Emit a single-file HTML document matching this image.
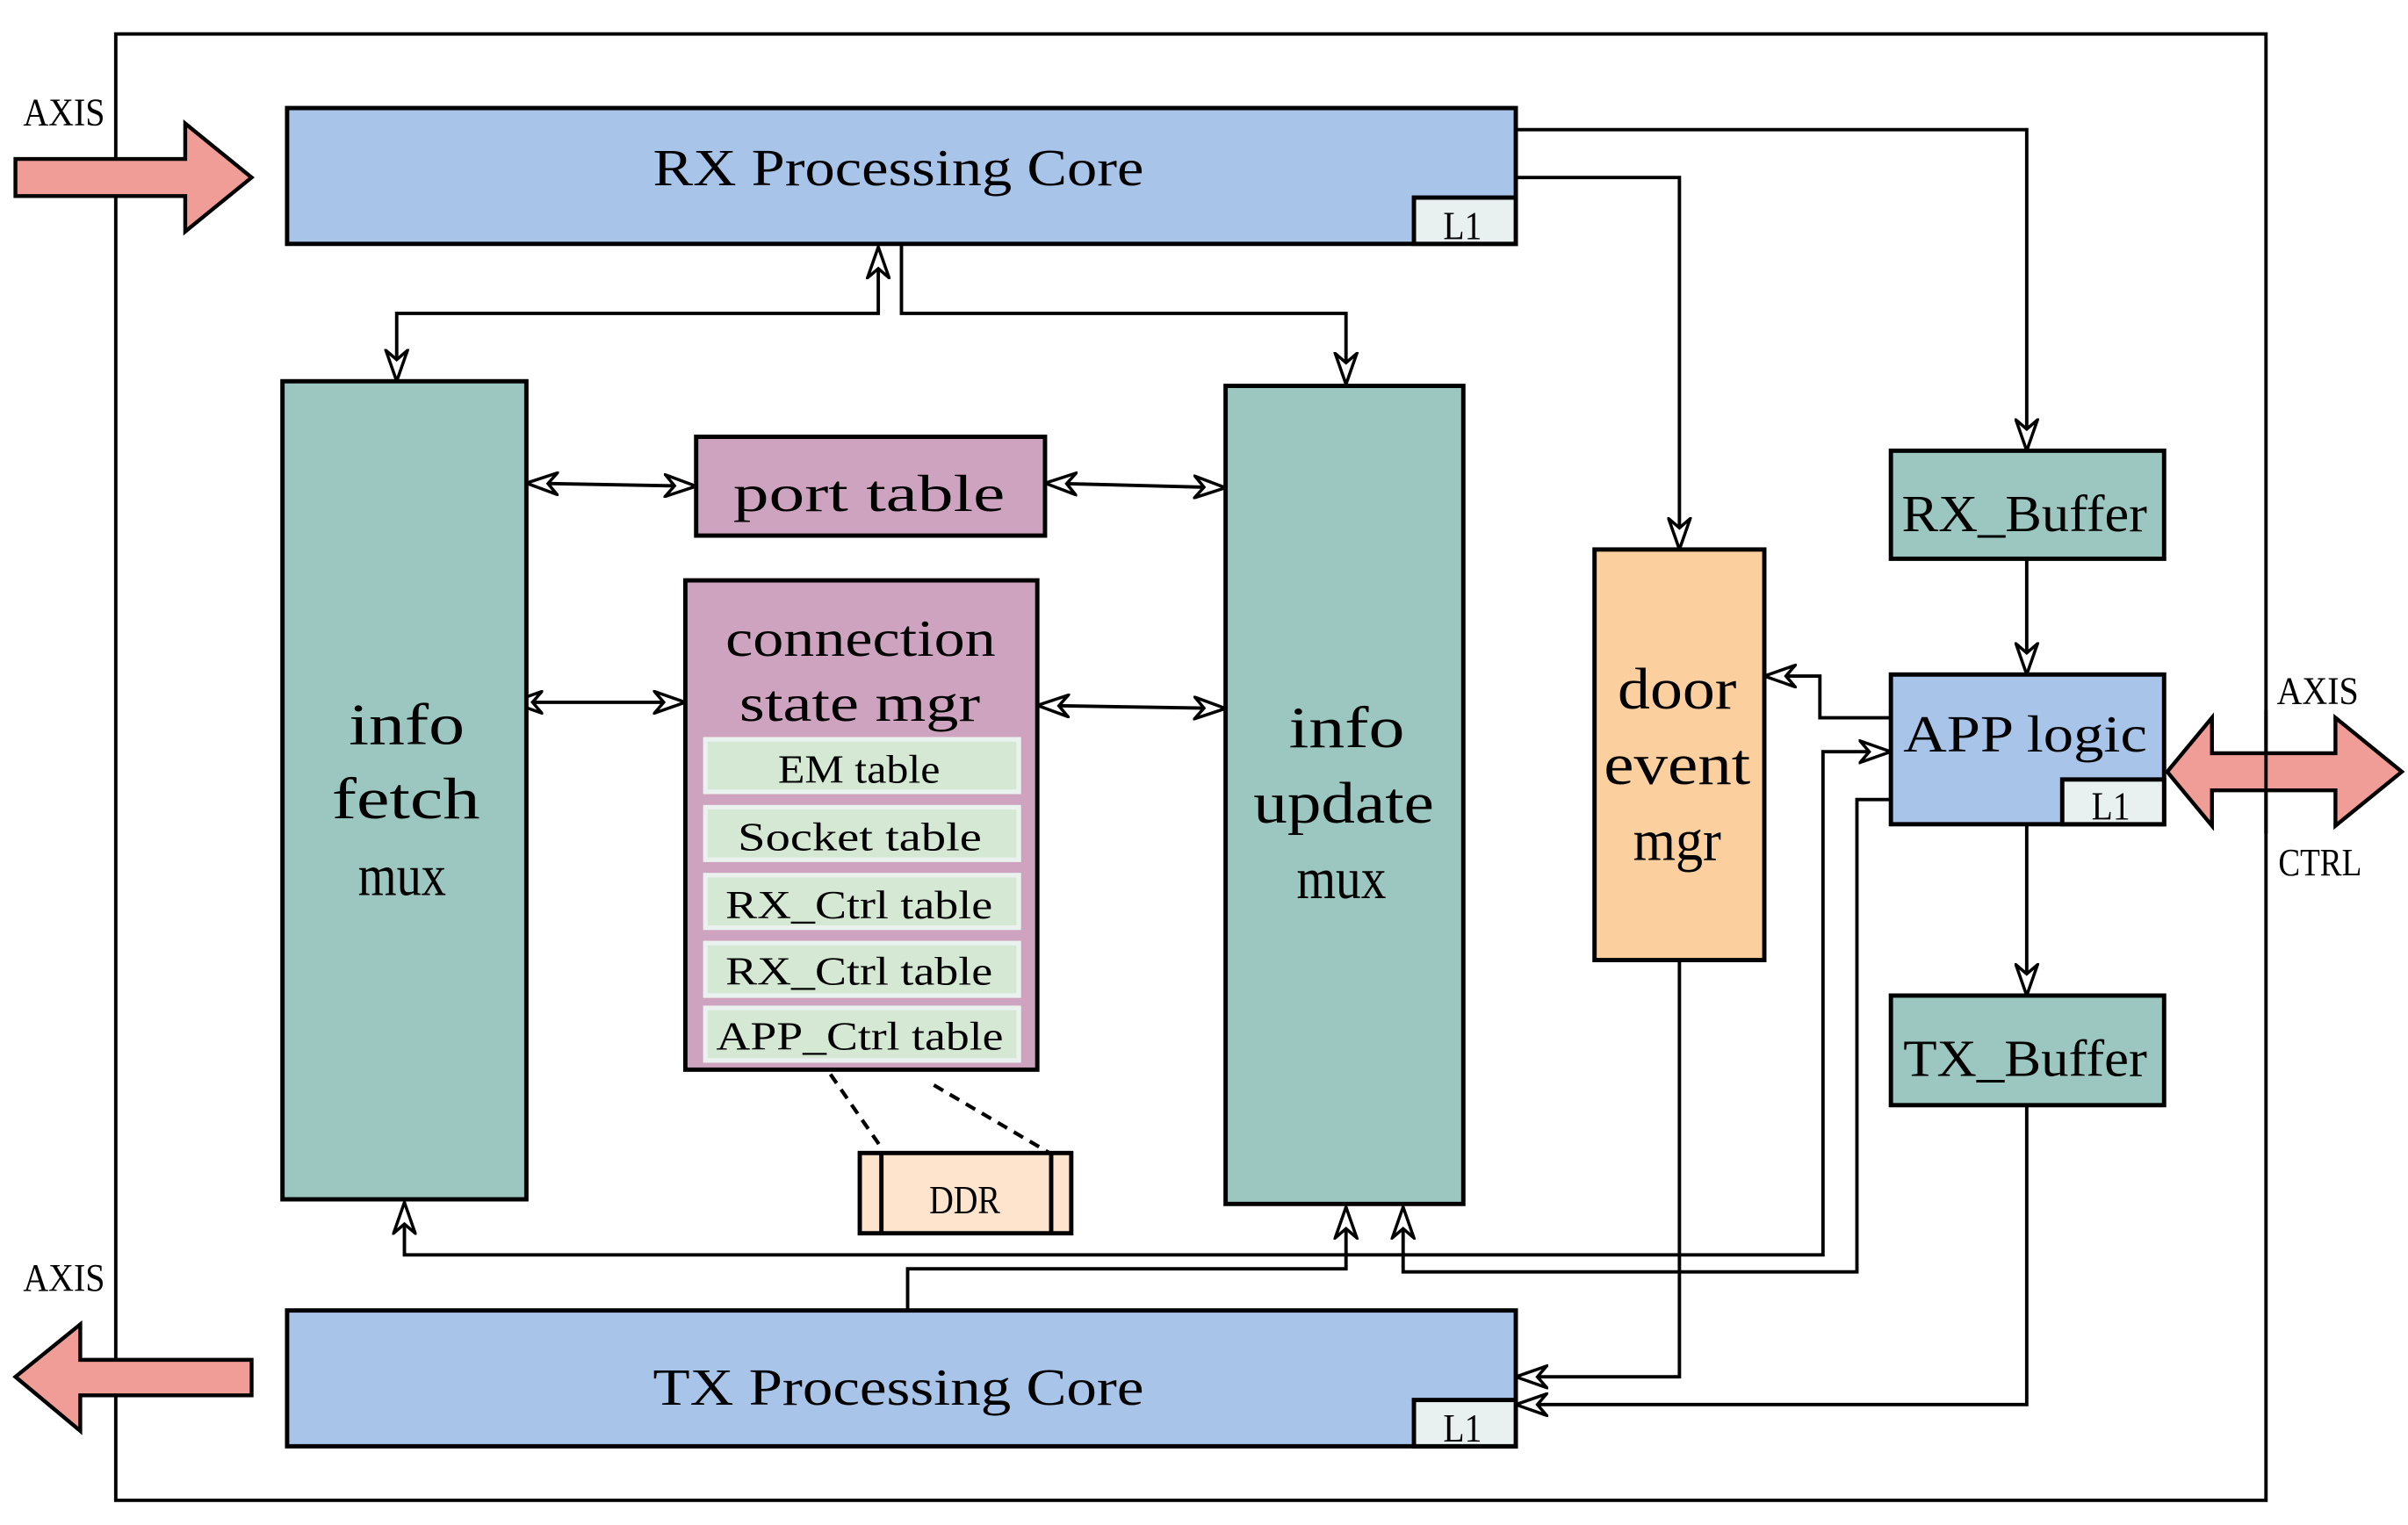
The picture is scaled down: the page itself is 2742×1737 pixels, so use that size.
<!DOCTYPE html>
<html><head><meta charset="utf-8"><style>
html,body{margin:0;padding:0;background:#fff;}
svg{display:block;}
text{font-family:"Liberation Serif",serif;fill:#000;}
</style></head><body>
<svg width="2742" height="1737" viewBox="0 0 1560 988" preserveAspectRatio="none" xmlns="http://www.w3.org/2000/svg">
<defs>
<marker id="a" viewBox="0 0 22 16" refX="21" refY="8" markerWidth="22" markerHeight="16" markerUnits="userSpaceOnUse" orient="auto-start-reverse">
<path d="M1,1 L21,8 L1,15 L7,8 Z" fill="#fff" stroke="#000" stroke-width="2"/>
</marker>
</defs>
<rect x="0" y="0" width="1560" height="988" fill="#fff"/>
<rect x="75" y="22" width="1393" height="950" fill="none" stroke="#000" stroke-width="2.2"/>

<polygon points="1404,500 1433,465 1433,488 1513,488 1513,465 1556,500 1513,535 1513,512 1433,512 1433,535" fill="#f09d98" stroke="#000" stroke-width="2.5"/>
<line x1="1468" y1="460" x2="1468" y2="540" stroke="#000" stroke-width="2.2"/>
<text x="1475" y="456" font-size="25" textLength="53" lengthAdjust="spacingAndGlyphs">AXIS</text>
<text x="1476" y="567" font-size="25" textLength="54" lengthAdjust="spacingAndGlyphs">CTRL</text>

<polygon points="10,103 120,103 120,80 163,115 120,150 120,127 10,127" fill="#f09d98" stroke="#000" stroke-width="2.5"/>
<text x="15" y="81" font-size="25" textLength="53" lengthAdjust="spacingAndGlyphs">AXIS</text>
<polygon points="163,881 52,881 52,858 10,892 52,927 52,904 163,904" fill="#f09d98" stroke="#000" stroke-width="2.5"/>
<text x="15" y="836" font-size="25" textLength="53" lengthAdjust="spacingAndGlyphs">AXIS</text>

<g fill="none" stroke="#000" stroke-width="2.2">
<polyline points="982,84 1313,84 1313,292" marker-end="url(#a)"/>
<polyline points="982,115 1088,115 1088,356" marker-end="url(#a)"/>
<polyline points="584,158 584,203 872,203 872,249" marker-end="url(#a)"/>
<polyline points="257,247 257,203 569,203 569,160" marker-start="url(#a)" marker-end="url(#a)"/>
<line x1="341" y1="313" x2="451" y2="315" marker-start="url(#a)" marker-end="url(#a)"/>
<line x1="677" y1="313" x2="794" y2="316" marker-start="url(#a)" marker-end="url(#a)"/>
<line x1="331" y1="455" x2="444" y2="455" marker-start="url(#a)" marker-end="url(#a)"/>
<line x1="672" y1="457" x2="794" y2="459" marker-start="url(#a)" marker-end="url(#a)"/>
<line x1="1313" y1="362" x2="1313" y2="437" marker-end="url(#a)"/>
<line x1="1313" y1="534" x2="1313" y2="645" marker-end="url(#a)"/>
<polyline points="1225,465 1179,465 1179,438 1143,438" marker-end="url(#a)"/>
<polyline points="262,779 262,813 1181,813 1181,487 1225,487" marker-start="url(#a)" marker-end="url(#a)"/>
<polyline points="1225,518 1203,518 1203,824 909,824 909,782" marker-end="url(#a)"/>
<polyline points="588,849 588,822 872,822 872,782" marker-end="url(#a)"/>
<polyline points="1088,622 1088,892 982,892" marker-end="url(#a)"/>
<polyline points="1313,716 1313,910 982,910" marker-end="url(#a)"/>
<line x1="538" y1="696" x2="572" y2="745" stroke-dasharray="7,5" stroke-width="2.4"/>
<line x1="605" y1="703" x2="680" y2="747" stroke-dasharray="7,5" stroke-width="2.4"/>
</g>

<g stroke="#000" stroke-width="2.8">
<rect x="186" y="70" width="796" height="88" fill="#a9c4e9"/>
<rect x="916" y="128" width="66" height="30" fill="#e8f1ef"/>
<rect x="186" y="849" width="796" height="88" fill="#a9c4e9"/>
<rect x="916" y="907" width="66" height="30" fill="#e8f1ef"/>
<rect x="183" y="247" width="158" height="530" fill="#9cc6c0"/>
<rect x="794" y="250" width="154" height="530" fill="#9cc6c0"/>
<rect x="451" y="283" width="226" height="64" fill="#cea3bf"/>
<rect x="444" y="376" width="228" height="317" fill="#cea3bf"/>
<rect x="557" y="747" width="137" height="52" fill="#fee4cc"/>
<line x1="571" y1="747" x2="571" y2="799"/>
<line x1="681" y1="747" x2="681" y2="799"/>
<rect x="1033" y="356" width="110" height="266" fill="#fccf9f"/>
<rect x="1225" y="292" width="177" height="70" fill="#9cc6c0"/>
<rect x="1225" y="437" width="177" height="97" fill="#a9c4e9"/>
<rect x="1336" y="505" width="66" height="29" fill="#e8f1ef"/>
<rect x="1225" y="645" width="177" height="71" fill="#9cc6c0"/>
</g>
<g fill="#d5e8d4" stroke="#e9f2ee" stroke-width="3">
<rect x="457" y="479" width="203" height="34"/>
<rect x="457" y="523" width="203" height="34"/>
<rect x="457" y="567" width="203" height="34"/>
<rect x="457" y="611" width="203" height="34"/>
<rect x="457" y="653" width="203" height="34"/>
</g>

<g font-size="34">
<text x="423" y="120" textLength="318" lengthAdjust="spacingAndGlyphs">RX Processing Core</text>
<text x="423" y="910" textLength="318" lengthAdjust="spacingAndGlyphs">TX Processing Core</text>
<text x="475" y="331" textLength="176" lengthAdjust="spacingAndGlyphs">port table</text>
<text x="470" y="425" textLength="175" lengthAdjust="spacingAndGlyphs">connection</text>
<text x="479" y="467" textLength="156" lengthAdjust="spacingAndGlyphs">state mgr</text>
<text x="1232" y="344" textLength="159" lengthAdjust="spacingAndGlyphs">RX_Buffer</text>
<text x="1233" y="487" textLength="158" lengthAdjust="spacingAndGlyphs">APP logic</text>
<text x="1233" y="697" textLength="158" lengthAdjust="spacingAndGlyphs">TX_Buffer</text>
</g>
<g font-size="38">
<text x="226" y="482" textLength="75" lengthAdjust="spacingAndGlyphs">info</text>
<text x="215" y="530" textLength="96" lengthAdjust="spacingAndGlyphs">fetch</text>
<text x="232" y="580" textLength="57" lengthAdjust="spacingAndGlyphs">mux</text>
<text x="835" y="484" textLength="75" lengthAdjust="spacingAndGlyphs">info</text>
<text x="812" y="533" textLength="117" lengthAdjust="spacingAndGlyphs">update</text>
<text x="840" y="582" textLength="58" lengthAdjust="spacingAndGlyphs">mux</text>
<text x="1048" y="459" textLength="77" lengthAdjust="spacingAndGlyphs">door</text>
<text x="1039" y="508" textLength="95" lengthAdjust="spacingAndGlyphs">event</text>
<text x="1058" y="557" textLength="57" lengthAdjust="spacingAndGlyphs">mgr</text>
</g>
<g font-size="26">
<text x="504" y="507" textLength="105" lengthAdjust="spacingAndGlyphs">EM table</text>
<text x="478" y="551" textLength="158" lengthAdjust="spacingAndGlyphs">Socket table</text>
<text x="470" y="595" textLength="173" lengthAdjust="spacingAndGlyphs">RX_Ctrl table</text>
<text x="470" y="638" textLength="173" lengthAdjust="spacingAndGlyphs">RX_Ctrl table</text>
<text x="464" y="680" textLength="186" lengthAdjust="spacingAndGlyphs">APP_Ctrl table</text>
<text x="602" y="786" textLength="46" lengthAdjust="spacingAndGlyphs">DDR</text>
<text x="935" y="155" textLength="25" lengthAdjust="spacingAndGlyphs">L1</text>
<text x="935" y="934" textLength="25" lengthAdjust="spacingAndGlyphs">L1</text>
<text x="1355" y="531" textLength="25" lengthAdjust="spacingAndGlyphs">L1</text>
</g>
</svg>
</body></html>
